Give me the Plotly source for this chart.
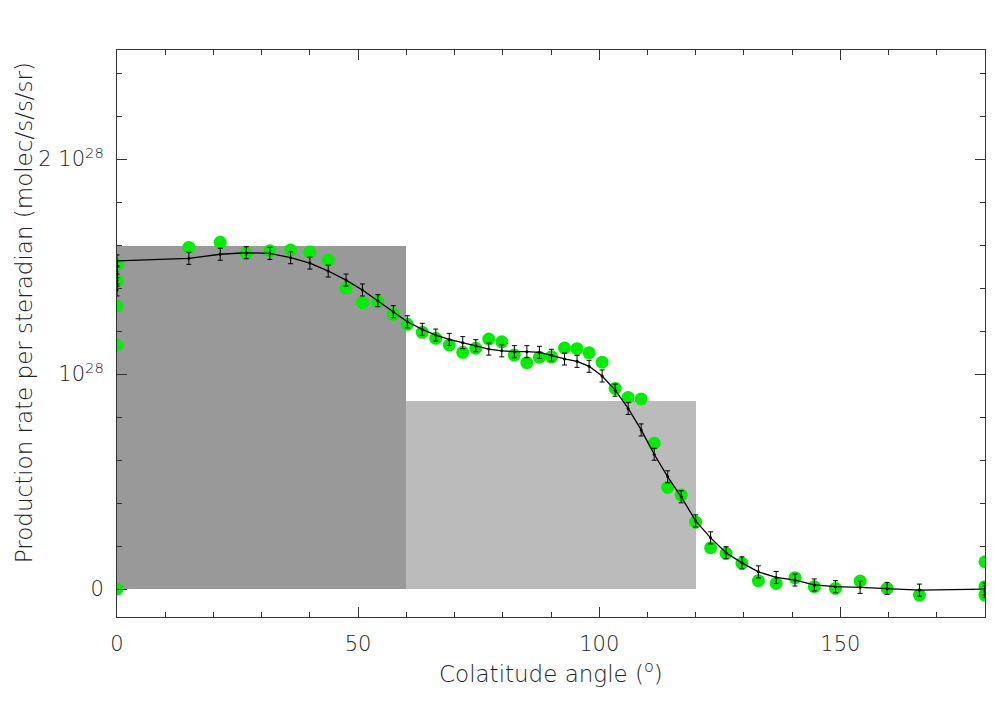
import plotly.graph_objects as go

SCALE = 1e28

# Shaded regions (colatitude bands, heights in units of 1e28)
band_center = [30, 90]
band_width = [60, 60]
band_height = [1.595, 0.874]
band_color = ["#999999", "#bbbbbb"]

# Model curve with error bars (units of 1e28)
model_theta = [0, 0, 0, 0, 14.9, 21.4, 26.8, 31.7, 36.0, 40.0, 43.8, 47.5, 50.9, 54.1, 57.3,
               60.2, 63.3, 66.1, 68.9, 71.7, 74.4, 77.1, 79.8, 82.4, 85.0, 87.6, 90.1, 92.8,
               95.4, 97.9, 100.6, 103.3, 106.0, 108.7, 111.4, 114.2, 117.0, 120.0, 123.1,
               126.3, 129.6, 133.0, 136.7, 140.6, 144.6, 149.0, 154.1, 159.7, 166.4, 180, 180]
model_val = [1.391, 1.437, 1.476, 1.526, 1.538, 1.557, 1.564, 1.561, 1.541, 1.516, 1.479,
             1.437, 1.391, 1.341, 1.290, 1.243, 1.208, 1.181, 1.161, 1.146, 1.132, 1.116,
             1.108, 1.104, 1.104, 1.101, 1.087, 1.070, 1.059, 1.036, 0.991, 0.925, 0.840,
             0.740, 0.627, 0.522, 0.429, 0.317, 0.238, 0.169, 0.122, 0.080, 0.054, 0.042,
             0.019, 0.011, 0.008, 0.003, -0.005, 0.0, -0.012]
model_err = [0.028] * len(model_val)

# Observations (units of 1e28)
obs_theta = [0, 0, 0, 0, 0, 14.9, 21.4, 26.8, 31.7, 36.0, 40.0, 43.8, 47.5, 50.9, 54.1, 57.3,
             60.2, 63.3, 66.1, 68.9, 71.7, 74.4, 77.1, 79.8, 82.4, 85.0, 87.6, 90.1, 92.8,
             95.4, 97.9, 100.6, 103.3, 106.0, 108.7, 111.4, 114.2, 117.0, 120.0, 123.1,
             126.3, 129.6, 133.0, 136.7, 140.6, 144.6, 149.0, 154.1, 159.7, 166.4, 180, 180, 180]
obs_val = [1.510, 1.433, 1.316, 1.135, 0.0, 1.589, 1.613, 1.561, 1.573, 1.577, 1.567, 1.530,
           1.400, 1.332, 1.336, 1.278, 1.231, 1.194, 1.166, 1.135, 1.101, 1.120, 1.163, 1.150,
           1.088, 1.053, 1.078, 1.080, 1.121, 1.118, 1.099, 1.055, 0.933, 0.891, 0.884, 0.678,
           0.473, 0.437, 0.311, 0.192, 0.166, 0.120, 0.039, 0.026, 0.053, 0.011, 0.003, 0.037,
           0.003, -0.028, 0.127, 0.011, -0.028]

y_tickvals = [0, 1, 2]
y_ticktext = ["0", "10<sup>28</sup>", "2&nbsp;10<sup>28</sup>"]

x_title = "Colatitude angle (<sup>o</sup>)"
y_title = "Production rate per steradian (molec/s/s/sr)"

FONT = "DejaVu Sans"
TXT = "#222222"
AX = "#333333"

fig = go.Figure()
for c, w, h, col in zip(band_center, band_width, band_height, band_color):
    fig.add_trace(go.Bar(x=[c], y=[h * SCALE], width=[w], marker=dict(color=col, line=dict(width=0)),
                         showlegend=False, hoverinfo="skip"))

fig.add_trace(go.Scatter(x=obs_theta, y=[v * SCALE for v in obs_val], mode="markers",
                         marker=dict(color="#00ee00", size=13, line=dict(width=0)),
                         showlegend=False))

fig.add_trace(go.Scatter(x=model_theta, y=[v * SCALE for v in model_val], mode="lines+markers",
                         line=dict(color="black", width=1.3),
                         marker=dict(color="black", size=3),
                         error_y=dict(type="data", array=[e * SCALE for e in model_err],
                                      color="black", thickness=1, width=2.5),
                         showlegend=False))

fig.update_layout(
    width=1002, height=702,
    margin=dict(l=109, r=25, t=42, b=93),
    paper_bgcolor="white", plot_bgcolor="white",
    barmode="overlay", bargap=0,
    font=dict(family=FONT, size=21, color=TXT, weight=300),
)
fig.update_xaxes(
    range=[0, 180], showgrid=False, zeroline=False,
    showline=True, linecolor=AX, linewidth=1, mirror="ticks",
    ticks="inside", ticklen=10, tickcolor=AX, tickwidth=1,
    tick0=0, dtick=50,
    minor=dict(ticks="inside", ticklen=5, tickcolor=AX, dtick=10, tick0=0),
    tickfont=dict(family=FONT, size=21, color=TXT, weight=300),
    ticklabelstandoff=8,
)
fig.update_yaxes(
    range=[-0.13 * SCALE, 2.507 * SCALE], showgrid=False, zeroline=False,
    showline=True, linecolor=AX, linewidth=1, mirror="ticks",
    ticks="inside", ticklen=10, tickcolor=AX, tickwidth=1,
    tickmode="array", tickvals=[v * SCALE for v in y_tickvals], ticktext=y_ticktext,
    minor=dict(ticks="inside", ticklen=5, tickcolor=AX, dtick=0.2 * SCALE, tick0=0),
    tickfont=dict(family=FONT, size=21, color=TXT, weight=300),
    ticklabelstandoff=8,
)

# axis titles placed as annotations relative to the plot area
fig.add_annotation(text=x_title, xref="paper", yref="paper", x=0.5, y=-0.097,
                   xanchor="center", yanchor="middle", showarrow=False,
                   font=dict(family=FONT, size=23, color=TXT, weight=300))
fig.add_annotation(text=y_title, xref="paper", yref="paper", x=-0.1071, y=0.536,
                   xanchor="center", yanchor="middle", showarrow=False, textangle=-90,
                   borderpad=0,
                   font=dict(family=FONT, size=23, color=TXT, weight=300))

fig.write_html("out.html")
